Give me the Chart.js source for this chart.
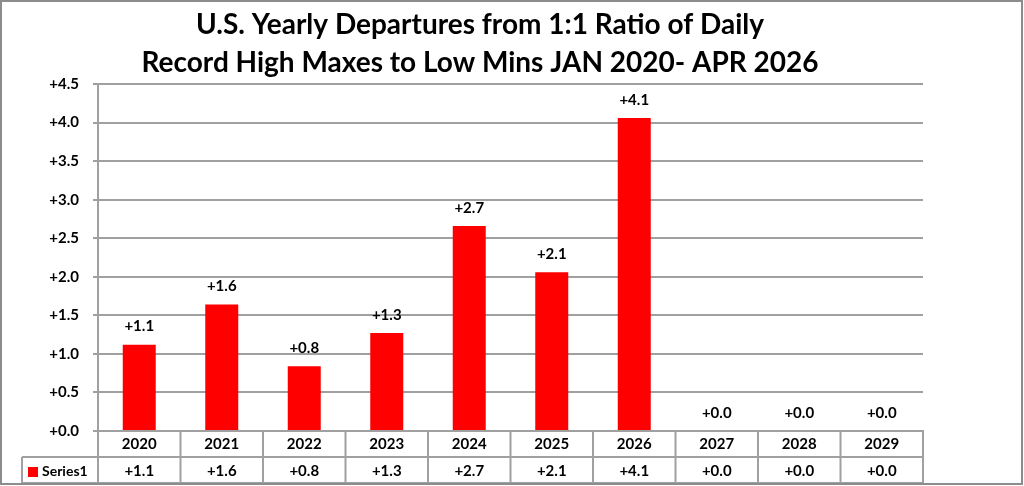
<!DOCTYPE html>
<html>
<head>
<meta charset="utf-8">
<script src="https://cdn.jsdelivr.net/npm/chart.js@4"></script>
<style>
html,body{margin:0;padding:0;background:#fff;}
#wrap{width:1024px;height:486px;position:relative;}
</style>
</head>
<body>
<div id="wrap"><canvas id="chart" width="1024" height="486"></canvas></div>
<script>
// values
const years = ["2020","2021","2022","2023","2024","2025","2026","2027","2028","2029"];
const departures = [1.12, 1.64, 0.84, 1.27, 2.66, 2.06, 4.06, 0, 0, 0];
const seriesName = "Series1";
const titleLines = [
  "U.S. Yearly Departures from 1:1 Ratio of Daily",
  "Record High Maxes to Low Mins JAN 2020- APR 2026"
];

const FONT = "Lato, 'Open Sans', sans-serif";
const GRID = "#a0a0a0";
const fmt = v => "+" + Number(v).toFixed(1);

// title, data labels, data table and frame
const extras = {
  id: "extras",
  afterDraw(chart) {
    const ctx = chart.ctx;
    const x = chart.scales.x;
    const area = chart.chartArea;
    const meta = chart.getDatasetMeta(0);
    ctx.save();

    // title
    ctx.fillStyle = "#000";
    ctx.font = "bold 28px " + FONT;
    ctx.textAlign = "center";
    ctx.textBaseline = "alphabetic";
    ctx.fillText(titleLines[0], 480, 34);
    ctx.fillText(titleLines[1], 480, 72);

    // data labels over the bars
    ctx.font = "bold 15px " + FONT;
    ctx.textBaseline = "middle";
    meta.data.forEach((bar, i) => {
      ctx.fillText(fmt(departures[i]), bar.x, bar.y - 18);
    });

    // data table
    const rowTop = area.bottom;
    const rowMid = rowTop + 26;
    const rowBot = rowTop + 52;
    const legendLeft = 22;
    ctx.strokeStyle = GRID;
    ctx.lineWidth = 2;
    ctx.beginPath();
    ctx.moveTo(legendLeft, rowMid); ctx.lineTo(area.right, rowMid);
    ctx.moveTo(legendLeft, rowBot); ctx.lineTo(area.right, rowBot);
    ctx.moveTo(legendLeft, rowMid); ctx.lineTo(legendLeft, rowBot);
    const half = (x.getPixelForValue(1) - x.getPixelForValue(0)) / 2;
    for (let i = 0; i <= years.length; i++) {
      const px = i < years.length ? x.getPixelForValue(i) - half : x.getPixelForValue(years.length - 1) + half;
      ctx.moveTo(px, i === 0 ? area.top : rowTop);
      ctx.lineTo(px, rowBot);
    }
    ctx.stroke();

    ctx.font = "bold 15px " + FONT;
    ctx.textAlign = "center";
    years.forEach((y, i) => {
      ctx.fillText(fmt(departures[i]), x.getPixelForValue(i), (rowMid + rowBot) / 2 + 1);
    });

    // legend key in table
    ctx.fillStyle = "#ff0000";
    ctx.fillRect(28, rowMid + 10, 10, 10);
    ctx.fillStyle = "#000";
    ctx.font = "bold 14px " + FONT;
    ctx.textAlign = "left";
    ctx.fillText(seriesName, 42, (rowMid + rowBot) / 2 + 1);

    // outer frame
    ctx.strokeStyle = "#8c8c8c";
    ctx.lineWidth = 2;
    ctx.strokeRect(1, 1, 1021, 483);
    ctx.restore();
  }
};

new Chart(document.getElementById("chart"), {
  type: "bar",
  data: {
    labels: years,
    datasets: [{
      label: seriesName,
      data: departures,
      backgroundColor: "#ff0000",
      borderWidth: 0,
      barPercentage: 0.4,
      categoryPercentage: 1.0
    }]
  },
  options: {
    responsive: false,
    animation: false,
    layout: { padding: { left: 0, right: 101, top: 84, bottom: 0 } },
    plugins: {
      legend: { display: false },
      title: { display: false },
      tooltip: { enabled: false }
    },
    scales: {
      x: {
        afterFit(scale) { scale.height = 55; },
        grid: { display: false, drawTicks: false },
        border: { color: GRID, width: 2 },
        ticks: {
          color: "#000",
          font: { family: FONT, size: 15, weight: "bold" },
          padding: 4,
          maxRotation: 0
        }
      },
      y: {
        min: 0,
        max: 4.5,
        afterFit(scale) { scale.width = 98; },
        grid: { color: GRID, lineWidth: 2, tickLength: 5 },
        border: { color: GRID, width: 2 },
        ticks: {
          stepSize: 0.5,
          color: "#000",
          padding: 14,
          font: { family: FONT, size: 15, weight: "bold" },
          callback: v => fmt(v)
        }
      }
    }
  },
  plugins: [extras]
});
</script>
</body>
</html>
